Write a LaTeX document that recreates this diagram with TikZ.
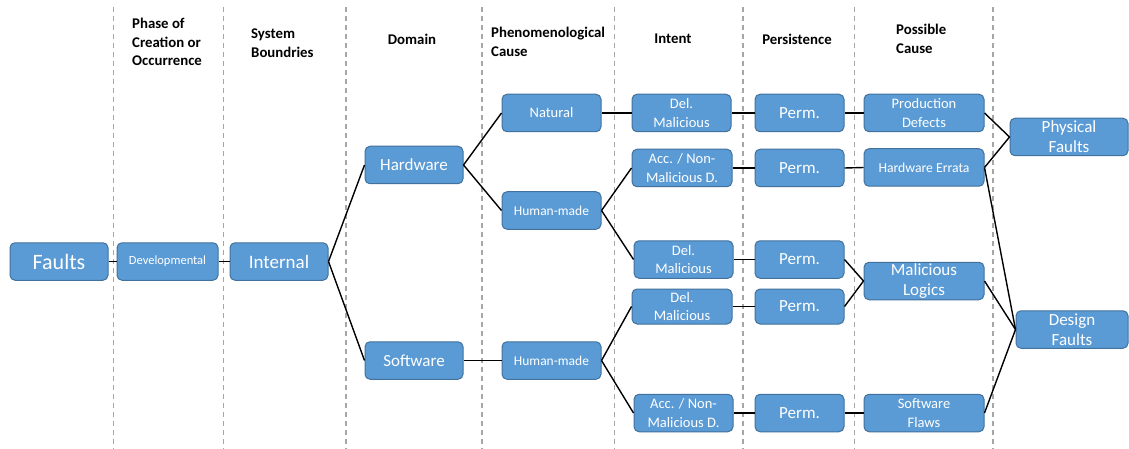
\documentclass[tikz,border=0pt]{standalone}
\usepackage{fontspec}
\setmainfont{Carlito}
\definecolor{boxblue}{HTML}{5B9BD5}
\definecolor{boxedge}{HTML}{41719C}
\definecolor{dashgray}{HTML}{A6A6A6}
\tikzset{
  fbox/.style={draw=boxedge, fill=boxblue, line width=1pt, rounded corners=5pt,
    text=white, align=center, inner sep=0pt, minimum height=37.5pt},
  fs/.style={font=\fontsize{#1}{18.5}\selectfont},
  fsb/.style={font=\fontsize{#1}{20}\selectfont},
  hdr/.style={font=\bfseries\fontsize{14.8}{18.5}\selectfont, inner sep=0pt},
  conn/.style={line width=1.4pt, black},
  sep/.style={dashgray, line width=1.2pt, dash pattern=on 5pt off 4pt},
}
\begin{document}
\begin{tikzpicture}[x=1pt,y=-1pt]
\useasboundingbox (0,0) rectangle (1129,449);
\fill[white] (0,0) rectangle (1129,449);
% separators
\foreach \xx in {113.5,223.5,346,482,614.5,743,854.5,993}
  \draw[sep] (\xx,7) -- (\xx,449);
% headers
\node[hdr, anchor=west, align=left] (h1) at (132,42) {Phase of\\Creation or\\Occurrence};
\node[hdr, anchor=west, align=left] (h2) at (251,43) {System\\Boundries};
\node[hdr] (h3) at (412,39) {Domain};
\node[hdr, anchor=west, align=left] (h4) at (491,42) {Phenomenological\\Cause};
\node[hdr] (h5) at (673,39) {Intent};
\node[hdr] (h6) at (797,39) {Persistence};
\node[hdr, anchor=west, align=left] (h7) at (896,39) {Possible\\Cause};
% nodes
\node[fbox, fs=22, minimum width=98pt] (faults) at (59,261.5) {Faults};
\node[fbox, fs=12.5, minimum width=101pt] (dev) at (167.5,261.5) {Developmental};
\node[fbox, fs=19, minimum width=98pt] (internal) at (279,261.5) {Internal};
\node[fbox, fs=17, minimum width=98pt] (hw) at (414,165) {Hardware};
\node[fbox, fs=17, minimum width=98pt] (sw) at (414,360.5) {Software};
\node[fbox, fs=14.5, minimum width=99pt] (nat) at (551.5,113) {Natural};
\node[fbox, fs=13.5, minimum width=99pt] (hmhw) at (551.5,210.5) {Human-made};
\node[fbox, fs=13.5, minimum width=99pt] (hmsw) at (551.5,360.5) {Human-made};
\node[fbox, fs=14.5, minimum width=99pt] (dm1) at (681.5,113) {Del.\\Malicious};
\node[fbox, fs=14.5, minimum width=100pt] (acc1) at (682,168) {Acc. / Non-\\Malicious D.};
\node[fbox, fs=14.5, minimum width=99pt] (dm2) at (683.5,259.5) {Del.\\Malicious};
\node[fbox, fs=14.5, minimum width=100pt, minimum height=35pt] (dm3) at (682,306.5) {Del.\\Malicious};
\node[fbox, fs=14.5, minimum width=99pt] (acc2) at (683.5,413) {Acc. / Non-\\Malicious D.};
\node[fbox, fs=17, minimum width=89pt] (p1) at (799.5,113) {Perm.};
\node[fbox, fs=17, minimum width=89pt] (p2) at (799.5,168) {Perm.};
\node[fbox, fs=17, minimum width=89pt] (p3) at (799.5,259.5) {Perm.};
\node[fbox, fs=17, minimum width=89pt, minimum height=35pt] (p4) at (799.5,306.5) {Perm.};
\node[fbox, fs=17, minimum width=89pt] (p5) at (799.5,413) {Perm.};
\node[fbox, fs=14.5, minimum width=120pt] (pd) at (924,113) {Production\\Defects};
\node[fbox, fs=13.7, minimum width=120pt] (he) at (924,167.5) {Hardware Errata};
\node[fbox, fsb=17, minimum width=120pt] (ml) at (924,281) {Malicious\\Logics};
\node[fbox, fs=14.5, minimum width=120pt] (sf) at (924,413) {Software\\Flaws};
\node[fbox, fsb=17, minimum width=118pt] (phys) at (1069,137) {Physical\\Faults};
\node[fbox, fsb=17, minimum width=112pt] (design) at (1072,329.5) {Design\\Faults};
% connectors
\draw[conn] (faults.east) -- (dev.west);
\draw[conn] (dev.east) -- (internal.west);
\draw[conn] (internal.east) -- (hw.west);
\draw[conn] (internal.east) -- (sw.west);
\draw[conn] (hw.east) -- (nat.west);
\draw[conn] (hw.east) -- (hmhw.west);
\draw[conn] (sw.east) -- (hmsw.west);
\draw[conn] (nat.east) -- (dm1.west);
\draw[conn] (hmhw.east) -- (acc1.west);
\draw[conn] (hmhw.east) -- (dm2.west);
\draw[conn] (hmsw.east) -- (dm3.west);
\draw[conn] (hmsw.east) -- (acc2.west);
\draw[conn] (dm1.east) -- (p1.west);
\draw[conn] (acc1.east) -- (p2.west);
\draw[conn] (dm2.east) -- (p3.west);
\draw[conn] (dm3.east) -- (p4.west);
\draw[conn] (acc2.east) -- (p5.west);
\draw[conn] (p1.east) -- (pd.west);
\draw[conn] (p2.east) -- (he.west);
\draw[conn] (p3.east) -- (ml.west);
\draw[conn] (p4.east) -- (ml.west);
\draw[conn] (p5.east) -- (sf.west);
\draw[conn] (pd.east) -- (phys.west);
\draw[conn] (he.east) -- (phys.west);
\draw[conn] (he.east) -- (design.west);
\draw[conn] (ml.east) -- (design.west);
\draw[conn] (sf.east) -- (design.west);
\end{tikzpicture}
\end{document}
